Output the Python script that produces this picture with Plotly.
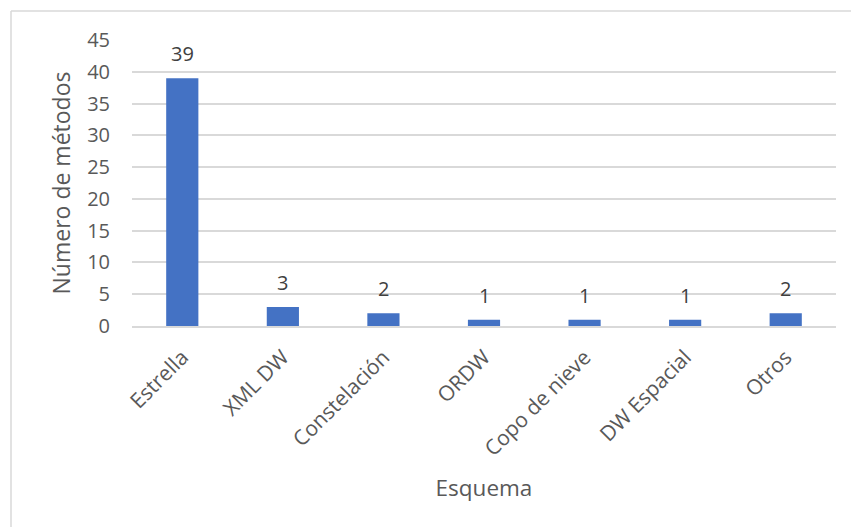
import plotly.graph_objects as go

# Chart data
categories = ["Estrella", "XML DW", "Constelación", "ORDW", "Copo de nieve", "DW Espacial", "Otros"]
values = [39, 3, 2, 1, 1, 1, 2]
y_ticks = [0, 5, 10, 15, 20, 25, 30, 35, 40, 45]

W, H = 851, 527
ML, MR, MT, MB = 132, 15, 40, 201
FONT = "Open Sans"
GREY = "#595959"
LINE = "#d9d9d9"

fig = go.Figure()
fig.add_trace(go.Bar(
    x=categories, y=values,
    marker=dict(color="#4472C4", line=dict(width=0)),
    hoverinfo="x+y",
))

# value labels above each bar
for c, v in zip(categories, values):
    fig.add_annotation(
        x=c, y=v, text=str(v), showarrow=False,
        yanchor="bottom", yshift=9,
        font=dict(family=FONT, size=20, color="#404040"),
    )

# outer chart frame (top and left edges)
pw, ph = W - ML - MR, H - MT - MB
def px_x(p):
    return (p - ML) / pw
def px_y(p):
    return (H - MB - p) / ph
fig.add_shape(type="line", xref="paper", yref="paper",
              x0=px_x(11), x1=px_x(W + 5), y0=px_y(11), y1=px_y(11),
              line=dict(color=LINE, width=1.5))
fig.add_shape(type="line", xref="paper", yref="paper",
              x0=px_x(11), x1=px_x(11), y0=px_y(11), y1=px_y(H + 5),
              line=dict(color=LINE, width=1.5))

fig.update_layout(
    width=W, height=H,
    margin=dict(l=ML, r=MR, t=MT, b=MB, pad=0),
    paper_bgcolor="white", plot_bgcolor="white",
    bargap=0.68,
    showlegend=False,
    font=dict(family=FONT, size=20, color=GREY),
    xaxis=dict(
        tickangle=-45, ticks="", showgrid=False, showline=True,
        linecolor=LINE, linewidth=1.5,
        ticklabelstandoff=9,
        tickfont=dict(family=FONT, size=21, color=GREY),
        title=dict(text="Esquema", font=dict(family=FONT, size=22.5, color=GREY), standoff=20),
    ),
    yaxis=dict(
        range=[0, 45], tickvals=y_ticks, ticks="",
        showgrid=True, gridcolor=LINE, gridwidth=1.5,
        zeroline=False, showline=False,
        ticklabelstandoff=21,
        tickfont=dict(family=FONT, size=20, color=GREY),
        title=dict(text="Número de métodos", font=dict(family=FONT, size=23, color=GREY), standoff=10),
    ),
)

fig.write_html("out.html")
